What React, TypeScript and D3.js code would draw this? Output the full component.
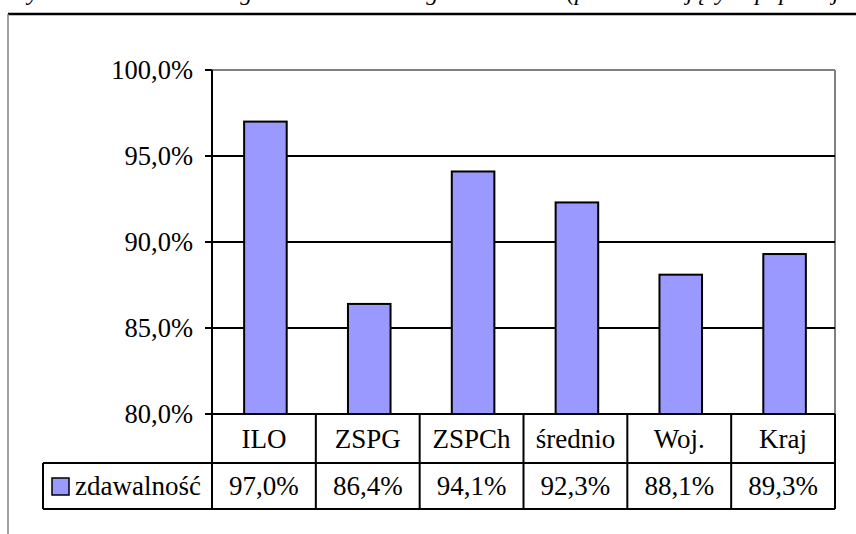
import React from "react";
import * as d3 from "d3";

const categories = ["ILO", "ZSPG", "ZSPCh", "średnio", "Woj.", "Kraj"];
const values = [97.0, 86.4, 94.1, 92.3, 88.1, 89.3];
const yTicks = [80, 85, 90, 95, 100];
const seriesName = "zdawalność";
const caption = "Wykres 1. Zdawalność egzaminu maturalnego w szkołach (procent zdających populacji ogółem)";

const W = 856;
const H = 534;
const plotL = 212;
const plotR = 835;
const plotT = 70;
const plotB = 414;
const row1B = 463;
const row2B = 509;
const tableL = 43;

const fmt = (v: number) => v.toFixed(1).replace(".", ",") + "%";
const FONT = "Liberation Serif";

export default function App() {
  const x = d3.scaleBand<string>().domain(categories).range([plotL, plotR]).padding(0);
  const y = d3.scaleLinear().domain([80, 100]).range([plotB, plotT]);
  const bw = x.bandwidth() * 0.41;
  return (
    <svg width={W} height={H} style={{ position: "absolute", left: 0, top: 0 }}>
      <rect x={0} y={0} width={W} height={H} fill="#fff" />
      {/* caption cut by the top edge */}
      <text x={10} y={0} fontSize={24} fontStyle="italic" fill="#000" fontFamily={FONT}>{caption}</text>
      {/* outer frame */}
      <line x1={8} x2={W} y1={14} y2={14} stroke="#000" strokeWidth={2.5} />
      <line x1={8} x2={8} y1={14} y2={H} stroke="#808080" strokeWidth={1.5} />
      {/* plot area border */}
      <line x1={plotL} x2={plotR} y1={plotT} y2={plotT} stroke="#808080" strokeWidth={2} />
      <line x1={plotR} x2={plotR} y1={plotT} y2={plotB} stroke="#808080" strokeWidth={2} />
      {/* gridlines */}
      {yTicks.filter((t) => t > 80 && t < 100).map((t) => (
        <line key={t} x1={plotL} x2={plotR} y1={y(t)} y2={y(t)} stroke="#000" strokeWidth={2} />
      ))}
      {/* bars */}
      {categories.map((c, i) => {
        const cx = (x(c) as number) + x.bandwidth() / 2 + 1.5;
        return (
          <rect key={c} x={cx - bw / 2} y={y(values[i])} width={bw} height={plotB - y(values[i])}
            fill="#9999FF" stroke="#000" strokeWidth={2} />
        );
      })}
      {/* y axis */}
      <line x1={plotL} x2={plotL} y1={plotT} y2={row2B} stroke="#000" strokeWidth={2} />
      {yTicks.map((t) => (
        <g key={t}>
          <line x1={plotL - 7} x2={plotL} y1={y(t)} y2={y(t)} stroke="#000" strokeWidth={2} />
          <text x={193} y={y(t)} dy="0.35em" textAnchor="end" fontSize={26.5} fill="#000" fontFamily={FONT}>{fmt(t)}</text>
        </g>
      ))}
      {/* data table */}
      <line x1={plotL - 7} x2={plotR} y1={plotB} y2={plotB} stroke="#000" strokeWidth={2} />
      <line x1={tableL} x2={plotR} y1={row1B} y2={row1B} stroke="#000" strokeWidth={2} />
      <line x1={tableL} x2={plotR} y1={row2B} y2={row2B} stroke="#000" strokeWidth={2} />
      <line x1={tableL} x2={tableL} y1={row1B} y2={row2B} stroke="#000" strokeWidth={2} />
      {categories.map((c, i) => {
        const x0 = x(c) as number;
        const x1 = x0 + x.bandwidth();
        const cx = x0 + x.bandwidth() / 2;
        return (
          <g key={c}>
            <line x1={x1} x2={x1} y1={plotB} y2={row2B} stroke="#000" strokeWidth={2} />
            <text x={cx} y={(plotB + row1B) / 2} dy="0.35em" textAnchor="middle" fontSize={27} fill="#000" fontFamily={FONT}>{c}</text>
            <text x={cx} y={(row1B + row2B) / 2} dy="0.35em" textAnchor="middle" fontSize={27} fill="#000" fontFamily={FONT}>{fmt(values[i])}</text>
          </g>
        );
      })}
      <rect x={52} y={478} width={17} height={17} fill="#9999FF" stroke="#000" strokeWidth={1.5} />
      <text x={75} y={(row1B + row2B) / 2} dy="0.35em" fontSize={27} fill="#000" fontFamily={FONT}>{seriesName}</text>
    </svg>
  );
}
